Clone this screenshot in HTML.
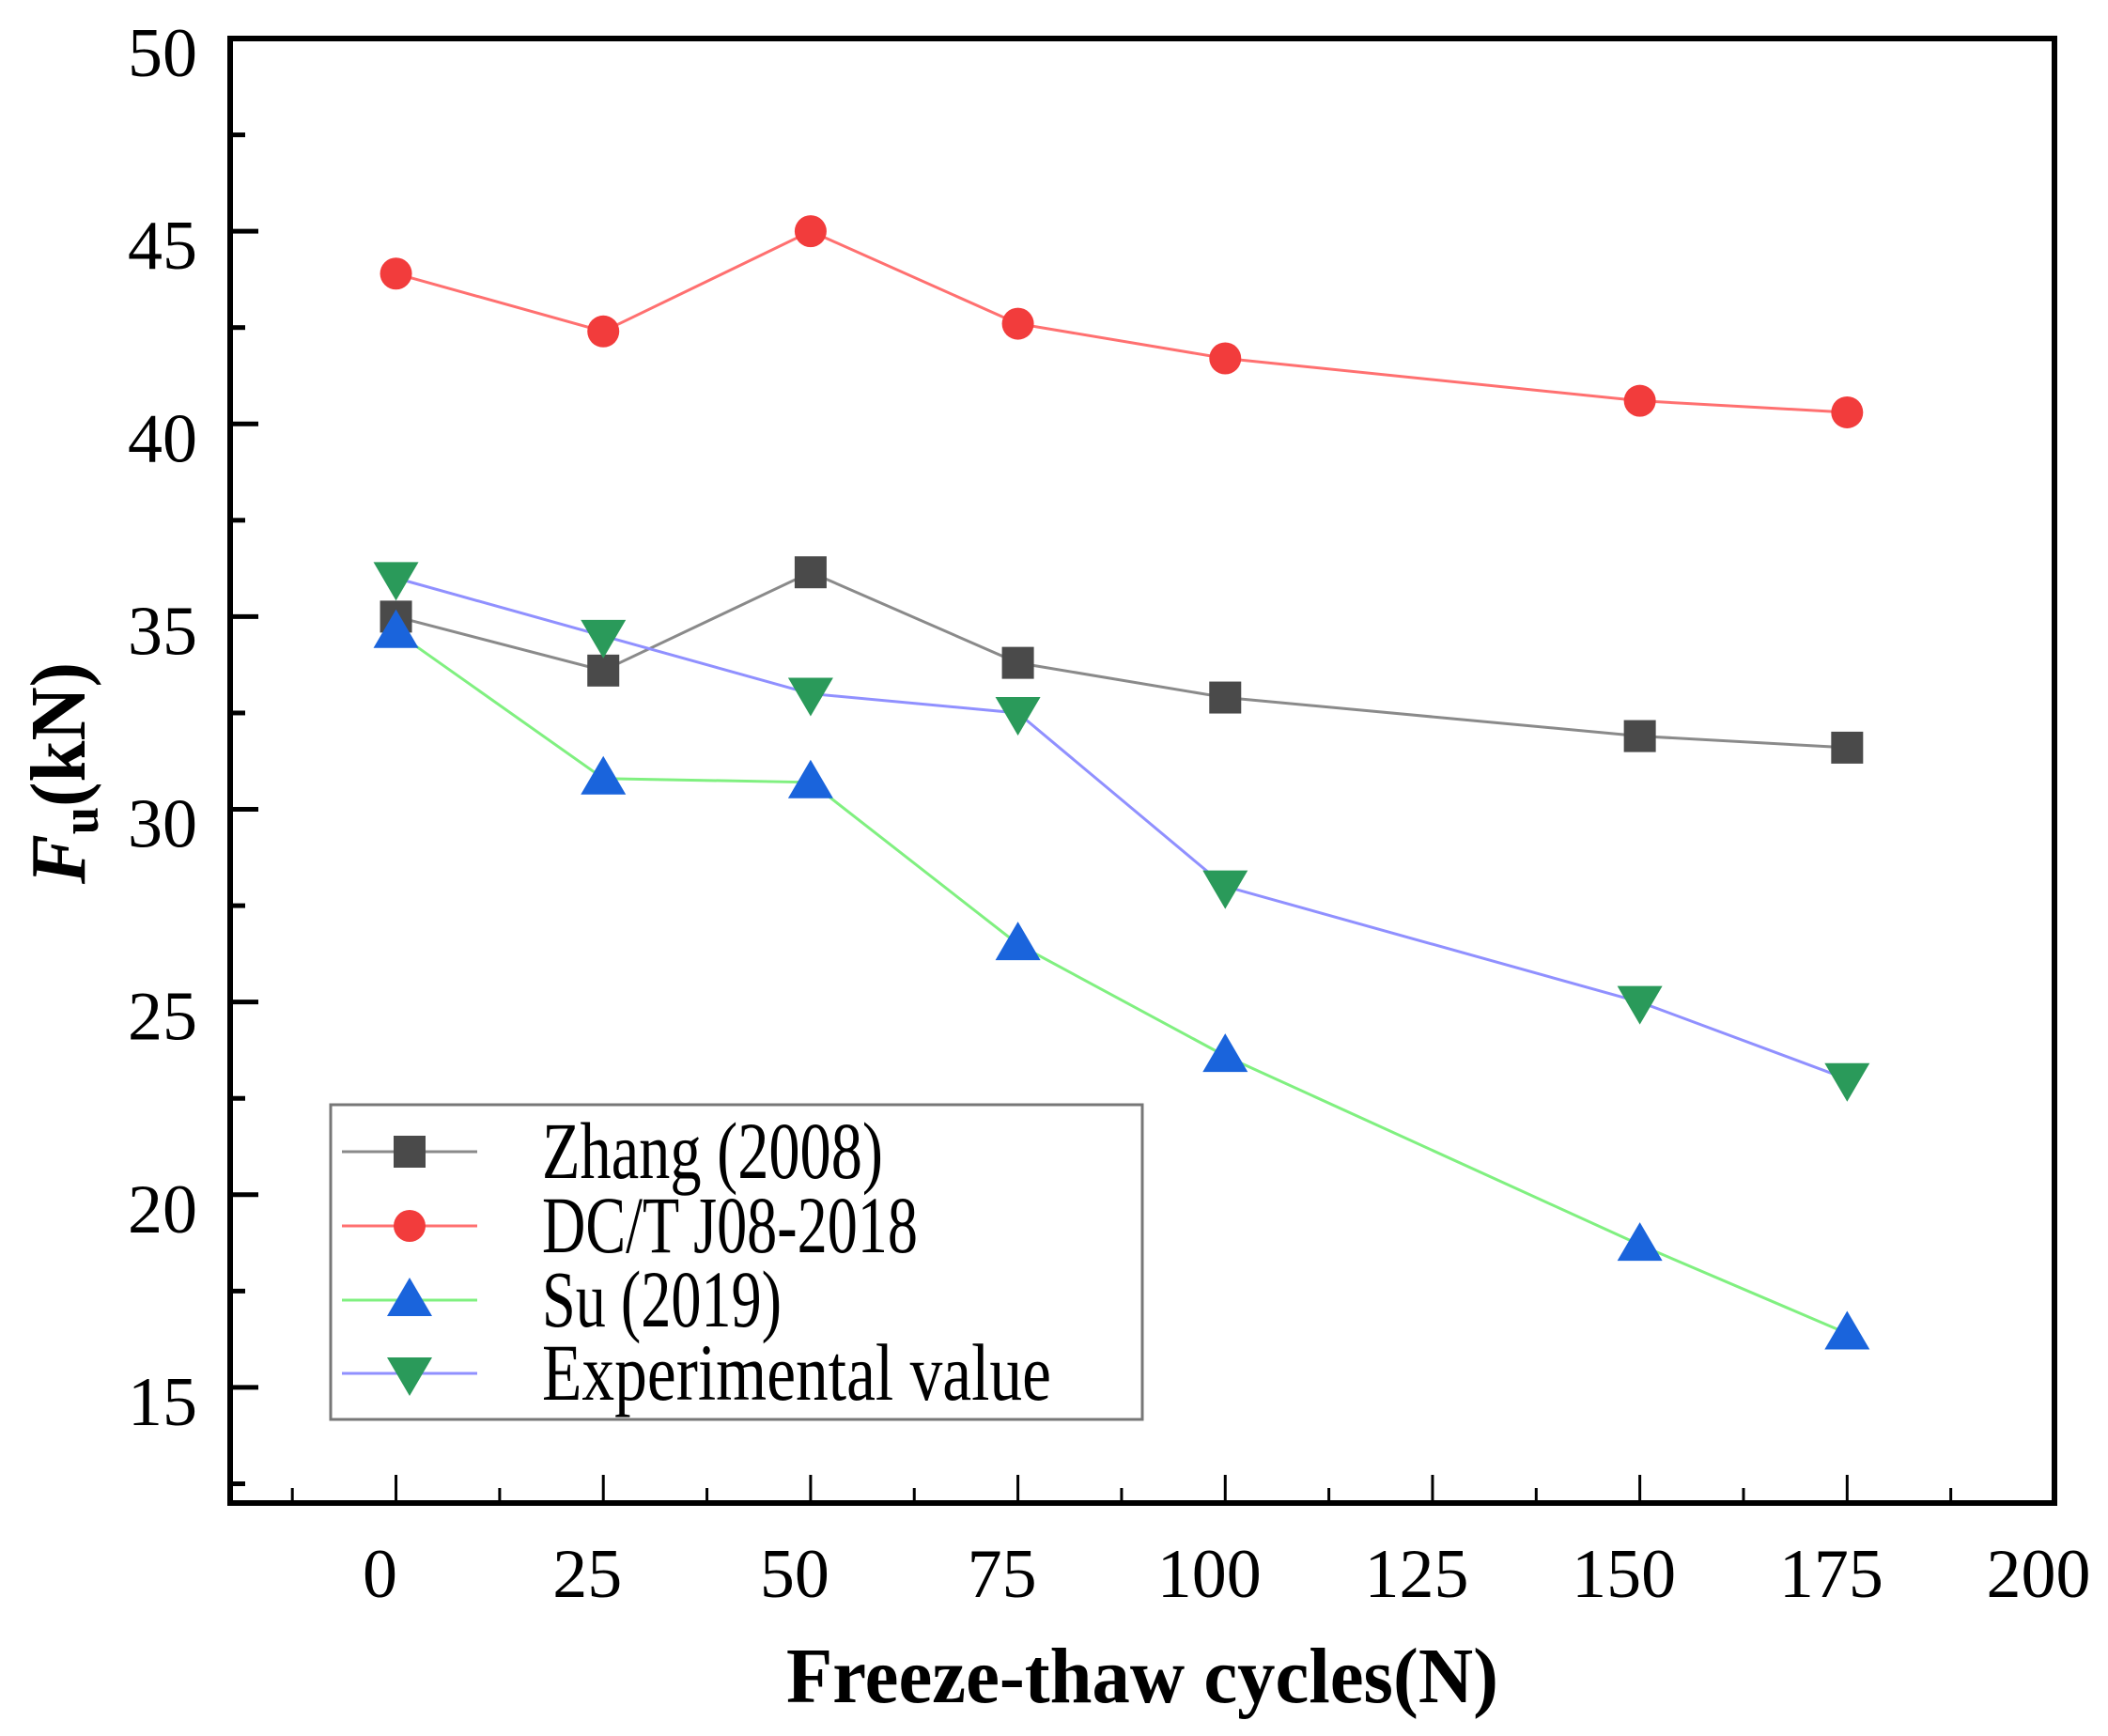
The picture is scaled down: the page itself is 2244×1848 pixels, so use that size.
<!DOCTYPE html>
<html><head><meta charset="utf-8"><style>html,body{margin:0;padding:0;background:#fff}svg{display:block}</style></head>
<body>
<svg id="chart" width="2244" height="1848" xmlns="http://www.w3.org/2000/svg" font-family="'Liberation Serif', serif">
<g id="ticks"></g>
<g id="series"></g>
<rect x="245" y="41" width="1942" height="1559" fill="none" stroke="#000" stroke-width="6"/>
<text x="1216" y="1812" text-anchor="middle" font-weight="bold" font-size="84" textLength="758" lengthAdjust="spacingAndGlyphs">Freeze-thaw cycles(N)</text>
<text transform="translate(90,823) rotate(-90)" text-anchor="middle" font-weight="bold" font-size="84" textLength="236" lengthAdjust="spacingAndGlyphs"><tspan font-style="italic">F</tspan><tspan font-size="56" dy="14">u</tspan><tspan dy="-14">(kN)</tspan></text>
<g id="legend">
<rect x="352" y="1176" width="864" height="335" fill="#fff" stroke="#777" stroke-width="3"/>
</g>
</svg>
<script>
const xVals = [0, 25, 50, 75, 100, 150, 175];
const zhang = [35.0, 33.6, 36.15, 33.8, 32.9, 31.9, 31.6];
const dct = [43.9, 42.4, 45.0, 42.6, 41.7, 40.6, 40.3];
const su = [34.6, 30.8, 30.7, 26.5, 23.6, 18.7, 16.4];
const expv = [36.0, 34.5, 33.0, 32.5, 28.0, 25.0, 23.0];
const xTicks = [0, 25, 50, 75, 100, 125, 150, 175, 200];
const yTicks = [15, 20, 25, 30, 35, 40, 45, 50];
const seriesNames = ["Zhang (2008)", "DC/T J08-2018", "Su (2019)", "Experimental value"];

const NS = "http://www.w3.org/2000/svg";
const L = 245, R = 2187, T = 41, B = 1600;
const xmin = -20, xmax = 200, ymin = 12, ymax = 50;
const sx = v => L + (v - xmin) / (xmax - xmin) * (R - L);
const sy = v => B - (v - ymin) / (ymax - ymin) * (B - T);
function mk(tag, attrs, parent) { const e = document.createElementNS(NS, tag); for (const k in attrs) e.setAttribute(k, attrs[k]); parent.appendChild(e); return e; }

const tg = document.getElementById('ticks');
for (let v = -12.5; v <= 200; v += 12.5) {
  const major = v % 25 === 0;
  const t = mk('line', {x1: sx(v), x2: sx(v), y1: B, y2: B - (major ? 30 : 16), stroke: '#000', 'stroke-width': 3}, tg);
  
  
}
xTicks.forEach(v => {
  const t = mk('text', {x: sx(v) - 17, y: 1700, 'text-anchor': 'middle', 'font-size': 74}, tg);
  t.textContent = v;
  
  
});
for (let v = 12.5; v < 50; v += 2.5) {
  const major = v % 5 === 0;
  const t = mk('line', {x1: L, x2: L + (major ? 30 : 16), y1: sy(v), y2: sy(v), stroke: '#000', 'stroke-width': 5}, tg);
  
  
}
yTicks.forEach(v => {
  const t = mk('text', {x: 210, y: sy(v) + 40, 'text-anchor': 'end', 'font-size': 74}, tg);
  t.textContent = v;
  
  
});

function marker(type, cx, cy, color, parent) {
  let e;
  if (type === 'square') e = mk('rect', {x: cx - 17, y: cy - 17, width: 34, height: 34, fill: color}, parent);
  else if (type === 'circle') e = mk('circle', {cx: cx, cy: cy, r: 17, fill: color}, parent);
  else if (type === 'up') e = mk('polygon', {points: `${cx},${cy - 24} ${cx + 24},${cy + 17} ${cx - 24},${cy + 17}`, fill: color}, parent);
  else e = mk('polygon', {points: `${cx},${cy + 24} ${cx + 24},${cy - 17} ${cx - 24},${cy - 17}`, fill: color}, parent);
  return e;
}
const defs = [
  {vals: zhang, line: '#8a8a8a', mcol: '#4a4a4a', type: 'square', name: 'zhang'},
  {vals: dct, line: '#ff7070', mcol: '#f23c3c', type: 'circle', name: 'dct'},
  {vals: su, line: '#80f080', mcol: '#1a64dc', type: 'up', name: 'su'},
  {vals: expv, line: '#9090ff', mcol: '#2a9a5a', type: 'down', name: 'experimental'}
];
const sg = document.getElementById('series');
defs.forEach(d => {
  const pl = mk('polyline', {points: d.vals.map((v, i) => sx(xVals[i]) + ',' + sy(v)).join(' '), fill: 'none', stroke: d.line, 'stroke-width': 3}, sg);
  
  
});
defs.forEach(d => {
  d.vals.forEach((v, i) => {
    const m = marker(d.type, sx(xVals[i]), sy(v), d.mcol, sg);
    
    
  });
});

const lg = document.getElementById('legend');
const ly = [1226, 1305, 1384, 1462];
const lw = [363, 400, 255, 542];
defs.forEach((d, i) => {
  const g = mk('g', {}, lg);
  
  
  mk('line', {x1: 364, x2: 508, y1: ly[i], y2: ly[i], stroke: d.line, 'stroke-width': 3}, g);
  marker(d.type, 436, ly[i], d.mcol, g);
  const t = mk('text', {x: 577, y: ly[i] + 28, 'font-size': 86, textLength: lw[i], lengthAdjust: 'spacingAndGlyphs'}, g);
  t.textContent = seriesNames[i];
});
</script>
</body></html>
